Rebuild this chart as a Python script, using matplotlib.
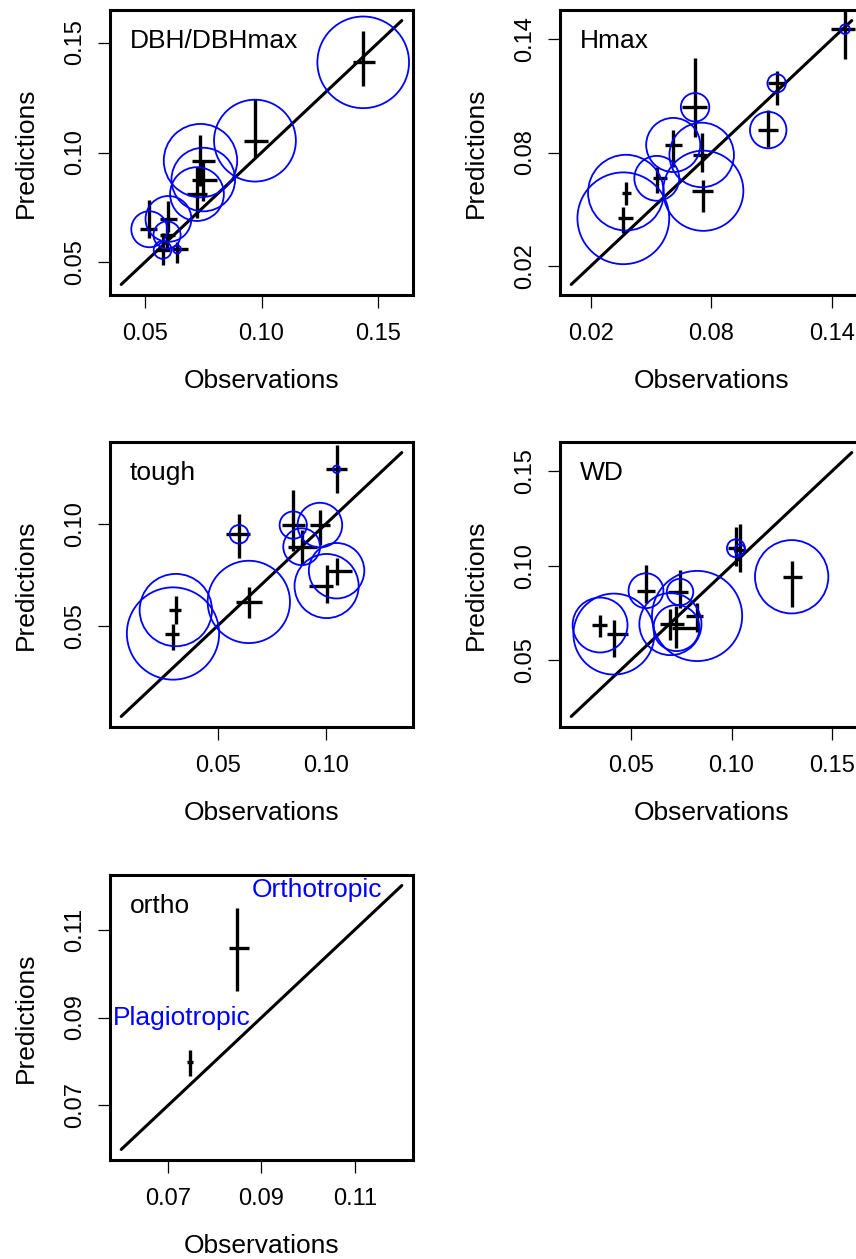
import numpy as np
import matplotlib.pyplot as plt

plt.rcParams['font.family'] = ['Liberation Sans', 'DejaVu Sans']

# DBH/DBHmax
dbh_obs = [0.1435, 0.0972, 0.0739, 0.0751, 0.0724, 0.0602, 0.0520, 0.0596, 0.0577, 0.0639]
dbh_obs_lo = [0.1391, 0.0925, 0.0701, 0.0703, 0.0681, 0.0566, 0.0480, 0.0566, 0.0549, 0.0622]
dbh_obs_hi = [0.1485, 0.1028, 0.0801, 0.0810, 0.0767, 0.0639, 0.0553, 0.0630, 0.0609, 0.0686]
dbh_pred = [0.1410, 0.1054, 0.0963, 0.0877, 0.0811, 0.0698, 0.0651, 0.0625, 0.0557, 0.0559]
dbh_pred_lo = [0.1302, 0.0981, 0.0848, 0.0779, 0.0702, 0.0639, 0.0611, 0.0566, 0.0488, 0.0498]
dbh_pred_hi = [0.1554, 0.1243, 0.1080, 0.0966, 0.0934, 0.0779, 0.0784, 0.0684, 0.0634, 0.0593]
dbh_r = [0.0196, 0.0175, 0.0157, 0.0136, 0.0115, 0.0098, 0.0077, 0.0058, 0.0038, 0.0017]

# Hmax
hmax_obs = [0.1466, 0.1125, 0.1083, 0.0718, 0.0609, 0.0751, 0.0759, 0.0527, 0.0373, 0.0360]
hmax_obs_lo = [0.1396, 0.1082, 0.1032, 0.0651, 0.0568, 0.0708, 0.0701, 0.0508, 0.0352, 0.0335]
hmax_obs_hi = [0.1516, 0.1167, 0.1132, 0.0776, 0.0651, 0.0776, 0.0809, 0.0576, 0.0397, 0.0410]
hmax_pred = [0.1454, 0.1167, 0.0919, 0.1040, 0.0840, 0.0787, 0.0597, 0.0663, 0.0587, 0.0451]
hmax_pred_lo = [0.1294, 0.1052, 0.0831, 0.0884, 0.0725, 0.0698, 0.0486, 0.0584, 0.0522, 0.0371]
hmax_pred_hi = [0.1556, 0.1232, 0.1025, 0.1300, 0.0919, 0.0903, 0.0654, 0.0725, 0.0645, 0.0512]
hmax_r = [0.0024, 0.0046, 0.0091, 0.0071, 0.0135, 0.0161, 0.0200, 0.0112, 0.0189, 0.0229]

# tough
tough_obs = [0.1049, 0.0599, 0.0849, 0.0972, 0.0888, 0.1003, 0.1049, 0.0644, 0.0307, 0.0294]
tough_obs_lo = [0.1000, 0.0538, 0.0795, 0.0926, 0.0824, 0.0923, 0.1003, 0.0587, 0.0276, 0.0256]
tough_obs_hi = [0.1096, 0.0649, 0.0903, 0.1018, 0.0957, 0.1034, 0.1119, 0.0703, 0.0333, 0.0322]
tough_pred = [0.1268, 0.0949, 0.0994, 0.0994, 0.0888, 0.0695, 0.0770, 0.0617, 0.0577, 0.0462]
tough_pred_lo = [0.1150, 0.0831, 0.0867, 0.0896, 0.0798, 0.0610, 0.0700, 0.0536, 0.0511, 0.0380]
tough_pred_hi = [0.1387, 0.1048, 0.1166, 0.1068, 0.0970, 0.0798, 0.0832, 0.0691, 0.0645, 0.0511]
tough_r = [0.0017, 0.0043, 0.0063, 0.0103, 0.0085, 0.0148, 0.0128, 0.0190, 0.0167, 0.0213]

# WD
wd_obs = [0.1300, 0.1022, 0.1041, 0.0573, 0.0743, 0.0828, 0.0695, 0.0725, 0.0344, 0.0413]
wd_obs_lo = [0.1258, 0.0982, 0.1027, 0.0527, 0.0683, 0.0773, 0.0643, 0.0703, 0.0302, 0.0377]
wd_obs_hi = [0.1350, 0.1042, 0.1062, 0.0618, 0.0783, 0.0858, 0.0763, 0.0828, 0.0377, 0.0485]
wd_pred = [0.0941, 0.1092, 0.1085, 0.0867, 0.0860, 0.0733, 0.0690, 0.0669, 0.0685, 0.0637]
wd_pred_lo = [0.0782, 0.0998, 0.0968, 0.0802, 0.0775, 0.0648, 0.0606, 0.0563, 0.0623, 0.0517]
wd_pred_hi = [0.1025, 0.1205, 0.1219, 0.1003, 0.0977, 0.0802, 0.0770, 0.0786, 0.0738, 0.0712]
wd_r = [0.0183, 0.0045, 0.0026, 0.0087, 0.0066, 0.0225, 0.0155, 0.0115, 0.0137, 0.0202]

# ortho (no circles)
ortho_groups = ['Plagiotropic', 'Orthotropic']
ortho_obs = [0.0747, 0.0848]
ortho_obs_lo = [0.0741, 0.0831]
ortho_obs_hi = [0.0753, 0.0874]
ortho_pred = [0.0798, 0.1059]
ortho_pred_lo = [0.0767, 0.0961]
ortho_pred_hi = [0.0825, 0.1148]

W, H = 856, 1259
PW, PH = 303, 285

fig = plt.figure(figsize=(W / 100, H / 100), dpi=100)


def add_box(left, top):
    return fig.add_axes([left / W, (H - top - PH) / H, PW / W, PH / H])


def draw_panel(ax, name, obs, obs_lo, obs_hi, pred, pred_lo, pred_hi, circ, lims, ticks):
    lo, hi = lims
    pad = 0.04 * (hi - lo)
    ax.set_xlim(lo - pad, hi + pad)
    ax.set_ylim(lo - pad, hi + pad)

    ax.plot([lo, hi], [lo, hi], color='black', lw=2.2, solid_capstyle='round', zorder=2)
    ax.vlines(obs, pred_lo, pred_hi, color='black', lw=2.4, zorder=2)
    ax.hlines(pred, obs_lo, obs_hi, color='black', lw=2.4, zorder=2)

    if circ is not None:
        px_per_unit = PW / (hi - lo + 2 * pad)
        d_pt = 2 * np.array(circ) * px_per_unit * 72 / 100
        ax.scatter(obs, pred, s=d_pt ** 2, facecolors='none', edgecolors='blue',
                   linewidths=1.3, zorder=3, clip_on=False)

    ax.set_xticks(ticks)
    ax.set_yticks(ticks)
    ax.set_xticklabels(['%.2f' % t for t in ticks])
    ax.set_yticklabels(['%.2f' % t for t in ticks])
    ax.tick_params(direction='out', length=9, width=0.9, labelsize=17)
    ax.tick_params(axis='x', pad=11)
    ax.tick_params(axis='y', pad=8)
    for lab in ax.get_yticklabels():
        lab.set_rotation(90)
        lab.set_va('center')
    for sp in ax.spines.values():
        sp.set_linewidth(2.2)

    ax.text(0.066, 0.865, name, transform=ax.transAxes, fontsize=19, ha='left', va='baseline')
    ax.text(0.5, -0.326, 'Observations', transform=ax.transAxes, fontsize=19,
            ha='center', va='baseline')
    ax.text(-0.2552, 0.5, 'Predictions', transform=ax.transAxes, fontsize=19,
            ha='center', va='baseline', rotation=90, rotation_mode='anchor')


ax1 = add_box(110, 10)
draw_panel(ax1, 'DBH/DBHmax', dbh_obs, dbh_obs_lo, dbh_obs_hi, dbh_pred, dbh_pred_lo,
           dbh_pred_hi, dbh_r, (0.04, 0.16), [0.05, 0.10, 0.15])

ax2 = add_box(560, 10)
draw_panel(ax2, 'Hmax', hmax_obs, hmax_obs_lo, hmax_obs_hi, hmax_pred, hmax_pred_lo,
           hmax_pred_hi, hmax_r, (0.01, 0.15), [0.02, 0.08, 0.14])

ax3 = add_box(110, 442)
draw_panel(ax3, 'tough', tough_obs, tough_obs_lo, tough_obs_hi, tough_pred, tough_pred_lo,
           tough_pred_hi, tough_r, (0.0055, 0.135), [0.05, 0.10])

ax4 = add_box(560, 442)
draw_panel(ax4, 'WD', wd_obs, wd_obs_lo, wd_obs_hi, wd_pred, wd_pred_lo,
           wd_pred_hi, wd_r, (0.02, 0.16), [0.05, 0.10, 0.15])

ax5 = add_box(110, 875)
draw_panel(ax5, 'ortho', ortho_obs, ortho_obs_lo, ortho_obs_hi, ortho_pred, ortho_pred_lo,
           ortho_pred_hi, None, (0.06, 0.12), [0.07, 0.09, 0.11])

# group labels next to the ortho points
label_xy = [(0.0729, 0.0883), (0.1019, 0.1175)]
for g, (lx, ly) in zip(ortho_groups, label_xy):
    ax5.text(lx, ly, g, color='blue', fontsize=19, ha='center', va='baseline')

fig.savefig('out.png', dpi=100)
